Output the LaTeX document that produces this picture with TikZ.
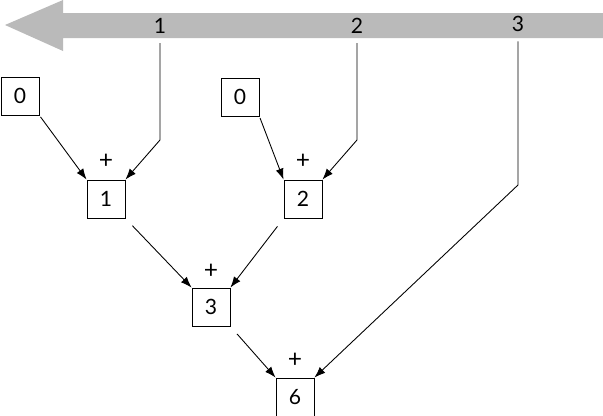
\documentclass[tikz,border=0pt]{standalone}
\usepackage{fontspec}
\setmainfont{Lato}
\usepackage{tikz}
\usetikzlibrary{arrows.meta}

\tikzset{
  numbox/.style={draw, line width=0.5pt, minimum size=0.76cm, inner sep=0pt, font=\fontsize{12}{14}\selectfont},
  plusmark/.style={inner sep=0pt, font=\fontsize{14}{16}\selectfont},
  tick/.style={inner sep=1pt, font=\fontsize{12}{14}\selectfont},
  wire/.style={line width=0.5pt, -{Latex[length=2.2mm,width=1.6mm]}},
}

\begin{document}
\begin{tikzpicture}[x=0.02cm,y=-0.02cm]
				\useasboundingbox (0,0) rectangle (603,416);
				% the input stream
				\fill[black!27] (5,25) -- (63,0) -- (63,13) -- (603,13) -- (603,38) -- (63,38) -- (63,51) -- cycle;
				\node[tick] (a1) at (160,26) {1};
				\node[tick] (a2) at (357,26) {2};
				\node[tick] (a3) at (518,24) {3};
				\coordinate (b1) at (160,140);
				\coordinate (b2) at (357,140);
				\coordinate (b3) at (518,185);
				% boxes
				\node[numbox] (z1) at (20,96) {0};
				\node[numbox] (z2) at (240,97) {0};
				\node[numbox] (s1) at (106,199) {1};
				\node[numbox] (s2) at (303,199) {2};
				\node[numbox] (s3) at (211,307) {3};
				\node[numbox] (s6) at (295,397) {6};
				\node[plusmark] (p1) at (106,161) {+};
				\node[plusmark] (p2) at (303,161) {+};
				\node[plusmark] (p3) at (211,271) {+};
				\node[plusmark] (p6) at (295,360) {+};
				% connections
				\draw[wire, shorten <=1.5mm] (a1.south) -- (b1) -- (s1.north east);
				\draw[wire, shorten <=1.5mm] (a2.south) -- (b2) -- (s2.north east);
				\draw[wire, shorten <=1.5mm] (a3.south) -- (b3) -- (s6.north east);
				\draw[wire, shorten <=1pt] (z1.south east) -- (s1.north west);
				\draw[wire, shorten <=1pt] (z2.south east) -- (s2.north west);
				\draw[wire, shorten <=2mm] (s1.south east) -- (s3.north west);
				\draw[wire, shorten <=2mm] (s2.south west) -- (s3.north east);
				\draw[wire, shorten <=2mm] (s3.south east) -- (s6.north west);
\end{tikzpicture}
\end{document}
